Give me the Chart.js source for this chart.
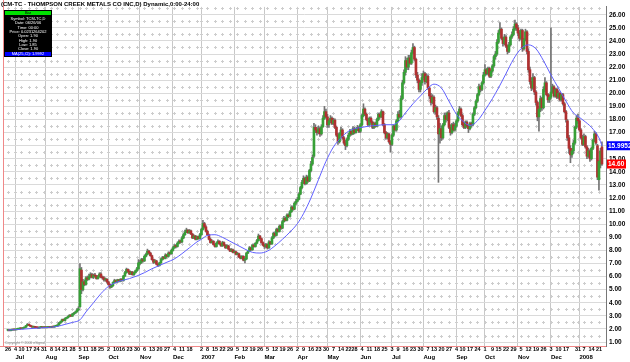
<!DOCTYPE html>
<html>
<head>
<meta charset="utf-8">
<script src="https://cdn.jsdelivr.net/npm/chart.js@4.4.0/dist/chart.umd.min.js"></script>
<style>
html, body { margin: 0; padding: 0; background: #fff; }
canvas { display: block; }
</style>
</head>
<body>
<canvas id="tcmChart" width="630" height="362"></canvas>
<script>
// TSX trading calendar
const firstDay = '2006-06-26';
const lastDay = '2008-01-23';
const holidays = ['2006-07-03', '2006-08-07', '2006-09-04', '2006-10-09', '2006-12-25', '2006-12-26',
    '2007-01-01', '2007-04-06', '2007-05-21', '2007-07-02', '2007-08-06', '2007-09-03', '2007-10-08',
    '2007-12-25', '2007-12-26', '2008-01-01'];
const monthNames = ['Jul', 'Aug', 'Sep', 'Oct', 'Nov', 'Dec', '2007', 'Feb', 'Mar', 'Apr', 'May', 'Jun',
    'Jul', 'Aug', 'Sep', 'Oct', 'Nov', 'Dec', '2008'];

// daily prices, one line per month
const opens = [
    1.90, 1.90, 1.87, 1.92, 1.95,
    1.93, 1.95, 1.99, 2.00, 2.05, 2.02, 2.08, 2.13, 2.25, 2.36, 2.27, 2.21, 2.14, 2.18, 2.13, 2.10, 2.07, 2.12, 2.16, 2.10,
    2.12, 2.10, 2.12, 2.16, 2.12, 2.18, 2.15, 2.21, 2.22, 2.30, 2.46, 2.55, 2.72, 2.64, 2.80, 2.86, 2.95, 3.06, 2.98, 3.14, 3.22, 3.30,
    3.45, 3.70, 6.50, 5.00, 5.60, 5.40, 5.90, 5.80, 6.00, 6.15, 5.95, 6.10, 6.05, 5.85, 6.00, 6.20, 5.95, 5.90, 5.75, 5.80,
    5.60, 5.40, 5.20, 5.30, 5.55, 5.70, 5.60, 5.75, 5.65, 5.80, 5.70, 6.05, 6.30, 6.55, 6.40, 6.20, 6.35, 6.15, 6.30, 6.45, 6.60,
    7.00, 7.10, 7.30, 7.20, 7.55, 7.70, 7.95, 7.80, 7.60, 7.30, 7.10, 7.20, 6.95, 6.85, 7.05, 7.30, 7.45, 7.40, 7.65, 7.55, 7.80, 7.75,
    8.00, 8.20, 8.35, 8.30, 8.55, 8.70, 8.65, 8.95, 9.20, 9.40, 9.55, 9.35, 9.50, 9.25, 8.95, 9.10, 8.85, 9.05, 8.90,
    9.20, 9.60, 10.05, 9.80, 9.45, 9.20, 8.85, 8.60, 8.70, 8.45, 8.30, 8.55, 8.70, 8.50, 8.35, 8.60, 8.40, 8.20, 8.35, 8.10, 7.95, 8.05,
    7.85, 7.90, 7.70, 7.75, 7.50, 7.40, 7.55, 7.25, 7.35, 7.80, 7.95, 8.20, 8.05, 8.40, 8.30, 8.55, 8.75, 9.10, 8.90, 8.60,
    8.40, 8.30, 8.45, 8.20, 8.65, 8.50, 8.95, 9.30, 9.15, 9.60, 9.45, 9.85, 9.70, 10.20, 10.45, 10.30, 10.70, 10.60, 10.95, 11.30, 11.15, 11.60,
    11.75, 11.90, 12.30, 12.80, 13.20, 13.50, 13.10, 13.60, 13.30, 14.10, 14.60, 15.20, 17.40, 17.20, 17.00, 17.30, 16.90, 17.45, 18.10, 18.60,
    18.20, 17.60, 17.90, 18.10, 17.70, 17.95, 17.40, 16.80, 16.30, 16.90, 17.20, 16.60, 16.20, 16.00, 16.50, 16.80, 17.10, 16.90, 17.30, 17.00, 17.25, 17.40,
    17.10, 17.60, 18.30, 18.80, 18.40, 18.00, 17.60, 18.10, 17.80, 17.40, 17.70, 17.50, 18.00, 18.40, 18.20, 18.60, 17.60, 17.00, 16.60, 16.90, 16.30,
    16.10, 16.80, 17.50, 17.20, 17.90, 18.40, 18.20, 19.60, 20.80, 21.60, 22.50, 22.00, 22.70, 22.30, 23.10, 23.50, 22.60, 21.40, 21.00, 20.30, 20.80,
    21.20, 21.50, 20.90, 21.30, 20.40, 19.80, 19.30, 19.70, 18.60, 18.90, 18.10, 16.90, 17.30, 16.60, 17.60, 18.30, 18.00, 18.50, 17.40, 17.00, 17.60, 17.20,
    17.50, 17.90, 18.50, 18.80, 18.30, 17.60, 17.40, 17.80, 17.50, 17.30, 17.70, 17.60, 18.40, 18.90, 19.40, 19.90, 20.50, 20.30, 20.80,
    21.40, 21.80, 21.50, 21.90, 21.30, 21.70, 22.10, 22.80, 23.00, 23.90, 24.60, 24.90, 24.20, 23.80, 24.30, 23.60, 23.20, 23.70, 24.30, 24.50, 24.90, 25.30,
    25.00, 24.60, 24.20, 24.80, 23.40, 24.10, 24.70, 23.20, 21.80, 20.90, 20.40, 21.20, 20.10, 19.30, 18.20, 18.80, 19.60, 18.90, 20.30, 20.80, 19.90, 19.50,
    19.70, 20.10, 20.50, 19.80, 20.30, 19.70, 20.00, 19.50, 19.90, 19.20, 18.60, 17.90, 16.60, 15.80, 15.30, 15.60, 16.20, 17.40, 18.10,
    17.90, 17.20, 16.60, 16.10, 16.70, 15.90, 15.20, 15.60, 15.00, 15.80, 16.40, 16.90, 16.00, 13.40, 14.60, 15.90
];
const highs = [
    1.90, 1.92, 1.94, 1.97, 1.97,
    1.98, 2.00, 2.03, 2.08, 2.07, 2.10, 2.15, 2.28, 2.42, 2.38, 2.30, 2.22, 2.21, 2.19, 2.15, 2.12, 2.15, 2.18, 2.17, 2.15,
    2.15, 2.15, 2.18, 2.18, 2.20, 2.20, 2.23, 2.26, 2.34, 2.50, 2.60, 2.75, 2.76, 2.85, 2.90, 3.00, 3.10, 3.10, 3.20, 3.28, 3.36, 3.55,
    3.70, 7.00, 6.70, 5.80, 5.75, 6.00, 6.05, 6.20, 6.30, 6.25, 6.20, 6.25, 6.10, 6.10, 6.30, 6.30, 6.05, 6.00, 5.90, 5.85,
    5.65, 5.45, 5.35, 5.60, 5.80, 5.75, 5.80, 5.80, 5.85, 5.85, 6.10, 6.40, 6.65, 6.60, 6.45, 6.40, 6.40, 6.35, 6.50, 6.70, 7.30,
    7.25, 7.40, 7.40, 7.65, 7.80, 8.10, 8.00, 7.85, 7.65, 7.35, 7.30, 7.25, 7.00, 7.10, 7.40, 7.55, 7.55, 7.75, 7.70, 7.90, 7.90, 8.10,
    8.30, 8.45, 8.45, 8.65, 8.80, 8.80, 9.05, 9.30, 9.55, 9.70, 9.60, 9.60, 9.55, 9.30, 9.20, 9.15, 9.10, 9.10, 9.30,
    9.70, 10.30, 10.15, 9.90, 9.55, 9.25, 8.95, 8.80, 8.75, 8.50, 8.65, 8.80, 8.75, 8.55, 8.70, 8.65, 8.45, 8.45, 8.40, 8.15, 8.15, 8.10,
    8.00, 7.95, 7.85, 7.80, 7.60, 7.60, 7.60, 7.40, 7.85, 8.00, 8.30, 8.25, 8.45, 8.50, 8.60, 8.85, 9.25, 9.15, 8.95, 8.65,
    8.50, 8.55, 8.50, 8.75, 8.70, 9.05, 9.40, 9.40, 9.70, 9.70, 9.95, 9.95, 10.30, 10.60, 10.55, 10.80, 10.80, 11.05, 11.40, 11.40, 11.70, 11.90,
    12.05, 12.40, 12.90, 13.35, 13.70, 13.60, 13.75, 13.70, 14.20, 14.80, 15.30, 17.70, 17.60, 17.40, 17.50, 17.40, 17.60, 18.30, 19.00, 18.80,
    18.40, 18.00, 18.30, 18.20, 18.10, 18.05, 17.50, 16.95, 17.00, 17.40, 17.30, 16.70, 16.40, 16.60, 16.95, 17.25, 17.15, 17.45, 17.40, 17.35, 17.55, 17.50,
    17.70, 18.40, 19.20, 18.90, 18.50, 18.10, 18.20, 18.20, 17.90, 17.80, 17.80, 18.10, 18.50, 18.50, 18.75, 18.65, 17.70, 17.10, 17.00, 16.95, 16.40,
    16.90, 17.60, 17.60, 18.00, 18.60, 18.70, 19.80, 21.00, 21.80, 22.80, 22.70, 22.90, 22.90, 23.30, 23.80, 23.60, 22.70, 21.60, 21.10, 21.00, 21.50,
    21.70, 21.60, 21.50, 21.40, 20.50, 20.00, 19.90, 19.80, 19.10, 19.00, 18.30, 17.70, 17.50, 17.70, 18.50, 18.50, 18.60, 18.70, 17.60, 17.70, 17.80, 17.70,
    18.00, 18.60, 19.00, 18.90, 18.40, 17.80, 17.90, 17.90, 17.60, 17.80, 17.80, 18.50, 19.00, 19.50, 20.00, 20.70, 20.60, 20.90, 21.60,
    22.20, 21.90, 22.00, 22.00, 21.80, 22.20, 22.90, 23.20, 24.10, 24.80, 25.40, 25.00, 24.30, 24.50, 24.40, 23.70, 23.90, 24.40, 24.70, 25.10, 25.60, 25.40,
    25.20, 24.80, 24.90, 24.90, 24.20, 24.90, 24.80, 23.40, 22.00, 21.20, 21.50, 21.30, 20.20, 19.40, 19.00, 19.80, 19.70, 20.50, 21.20, 20.90, 20.00, 19.90,
    25.00, 20.70, 20.60, 20.40, 20.40, 20.20, 20.10, 20.00, 20.00, 19.30, 18.70, 18.00, 16.80, 16.00, 15.80, 16.40, 17.50, 18.30, 18.40,
    18.00, 17.30, 16.80, 16.90, 16.80, 16.00, 15.80, 15.70, 15.90, 16.50, 17.10, 17.00, 16.10, 14.90, 15.80, 16.30
];
const lows = [
    1.85, 1.85, 1.86, 1.90, 1.91,
    1.91, 1.93, 1.96, 1.98, 2.00, 2.00, 2.05, 2.11, 2.22, 2.25, 2.18, 2.12, 2.12, 2.10, 2.08, 2.05, 2.05, 2.10, 2.08, 2.08,
    2.07, 2.08, 2.10, 2.10, 2.10, 2.13, 2.13, 2.18, 2.20, 2.28, 2.42, 2.52, 2.62, 2.62, 2.76, 2.82, 2.92, 2.95, 2.96, 3.10, 3.18, 3.28,
    3.40, 3.65, 4.70, 4.90, 5.30, 5.35, 5.70, 5.75, 5.90, 5.90, 5.85, 5.95, 5.80, 5.80, 5.95, 5.90, 5.80, 5.65, 5.65, 5.50,
    5.35, 5.10, 5.15, 5.25, 5.50, 5.55, 5.55, 5.60, 5.60, 5.65, 5.65, 6.00, 6.25, 6.35, 6.15, 6.15, 6.10, 6.10, 6.25, 6.40, 6.55,
    6.90, 7.00, 7.10, 7.15, 7.50, 7.65, 7.75, 7.55, 7.25, 7.00, 7.05, 6.90, 6.75, 6.80, 7.00, 7.25, 7.35, 7.35, 7.50, 7.50, 7.65, 7.70,
    7.95, 8.15, 8.20, 8.25, 8.50, 8.55, 8.60, 8.90, 9.15, 9.35, 9.30, 9.30, 9.20, 8.90, 8.90, 8.80, 8.80, 8.85, 8.85,
    9.15, 9.55, 9.70, 9.40, 9.15, 8.80, 8.55, 8.55, 8.40, 8.25, 8.25, 8.50, 8.45, 8.30, 8.30, 8.35, 8.15, 8.15, 8.05, 7.90, 7.90, 7.80,
    7.80, 7.65, 7.65, 7.45, 7.35, 7.35, 7.20, 7.05, 7.30, 7.75, 7.90, 8.00, 8.00, 8.25, 8.25, 8.50, 8.70, 8.85, 8.55, 8.35,
    8.15, 8.20, 8.10, 8.15, 8.45, 8.45, 8.90, 9.05, 9.10, 9.40, 9.40, 9.60, 9.65, 10.15, 10.25, 10.25, 10.50, 10.55, 10.90, 11.05, 11.10, 11.50,
    11.70, 11.85, 12.25, 12.70, 13.10, 13.00, 13.05, 13.20, 13.25, 14.00, 14.50, 15.10, 17.00, 16.80, 16.90, 16.70, 16.80, 17.40, 18.00, 18.10,
    17.40, 17.40, 17.75, 17.60, 17.60, 17.30, 16.70, 16.10, 16.20, 16.80, 16.50, 16.10, 15.70, 15.90, 16.40, 16.70, 16.80, 16.85, 16.90, 16.95, 17.15, 17.00,
    17.00, 17.50, 18.20, 18.30, 17.90, 17.50, 17.50, 17.70, 17.30, 17.30, 17.40, 17.45, 17.90, 18.10, 18.15, 17.50, 16.90, 16.50, 16.50, 16.20, 15.50,
    16.00, 16.70, 17.10, 17.10, 17.80, 18.10, 18.10, 19.50, 20.70, 21.40, 21.80, 21.80, 22.20, 22.20, 23.00, 22.50, 21.20, 20.80, 20.10, 20.10, 20.60,
    21.00, 20.70, 20.80, 20.30, 19.60, 19.10, 19.20, 18.50, 18.40, 18.00, 13.20, 16.20, 16.40, 16.50, 17.50, 17.80, 17.90, 17.30, 16.80, 16.90, 17.10, 17.10,
    17.40, 17.80, 18.40, 18.20, 17.50, 17.30, 17.30, 17.40, 17.00, 17.20, 17.40, 17.50, 18.30, 18.80, 19.30, 19.80, 20.10, 20.20, 20.70,
    21.30, 21.40, 21.40, 21.20, 21.20, 21.60, 22.00, 22.60, 22.90, 23.80, 24.50, 24.10, 23.60, 23.70, 23.50, 23.00, 23.10, 23.60, 24.20, 24.40, 24.80, 24.80,
    24.40, 24.00, 24.10, 23.20, 23.30, 24.00, 23.00, 21.60, 20.70, 20.20, 20.30, 19.90, 19.10, 17.90, 17.10, 18.60, 18.70, 18.80, 20.10, 19.80, 19.30, 19.30,
    19.60, 20.00, 19.70, 19.70, 19.60, 19.60, 19.40, 19.40, 19.10, 18.50, 17.80, 16.40, 15.40, 14.70, 15.10, 15.40, 16.10, 17.30, 17.70,
    17.10, 16.50, 16.00, 16.00, 15.80, 15.00, 15.10, 14.80, 14.90, 15.70, 16.30, 16.10, 13.40, 12.60, 14.30, 14.50
];
const closes = [
    1.90, 1.88, 1.92, 1.95, 1.93,
    1.95, 1.98, 2.00, 2.05, 2.02, 2.08, 2.12, 2.25, 2.35, 2.28, 2.20, 2.15, 2.18, 2.12, 2.10, 2.08, 2.12, 2.15, 2.10, 2.12,
    2.10, 2.12, 2.15, 2.12, 2.18, 2.15, 2.20, 2.22, 2.30, 2.45, 2.55, 2.70, 2.65, 2.80, 2.85, 2.95, 3.05, 2.98, 3.15, 3.20, 3.30, 3.45,
    3.55, 6.60, 5.00, 5.60, 5.40, 5.90, 5.80, 6.00, 6.15, 5.95, 6.10, 6.05, 5.85, 6.00, 6.20, 5.95, 5.90, 5.75, 5.80, 5.60,
    5.40, 5.20, 5.30, 5.55, 5.70, 5.60, 5.75, 5.65, 5.80, 5.70, 6.05, 6.30, 6.55, 6.40, 6.20, 6.35, 6.15, 6.30, 6.45, 6.60, 7.05,
    7.10, 7.30, 7.20, 7.55, 7.70, 7.95, 7.80, 7.60, 7.30, 7.10, 7.20, 6.95, 6.85, 7.05, 7.30, 7.45, 7.40, 7.65, 7.55, 7.80, 7.75, 8.00,
    8.20, 8.35, 8.30, 8.55, 8.70, 8.65, 8.95, 9.20, 9.40, 9.55, 9.35, 9.50, 9.25, 8.95, 9.10, 8.85, 9.05, 8.90, 9.20,
    9.60, 10.05, 9.80, 9.45, 9.20, 8.85, 8.60, 8.70, 8.45, 8.30, 8.55, 8.70, 8.50, 8.35, 8.60, 8.40, 8.20, 8.35, 8.10, 7.95, 8.05, 7.85,
    7.90, 7.70, 7.75, 7.50, 7.40, 7.55, 7.25, 7.35, 7.80, 7.95, 8.20, 8.05, 8.40, 8.30, 8.55, 8.75, 9.10, 8.90, 8.60, 8.40,
    8.30, 8.45, 8.20, 8.65, 8.50, 8.95, 9.30, 9.15, 9.60, 9.45, 9.85, 9.70, 10.20, 10.45, 10.30, 10.70, 10.60, 10.95, 11.30, 11.15, 11.60, 11.75,
    11.90, 12.30, 12.80, 13.20, 13.50, 13.10, 13.60, 13.30, 14.10, 14.60, 15.10, 17.40, 17.20, 17.00, 17.30, 16.90, 17.45, 18.10, 18.60, 18.20,
    17.60, 17.90, 18.10, 17.70, 17.95, 17.40, 16.80, 16.30, 16.90, 17.20, 16.60, 16.20, 16.00, 16.50, 16.80, 17.10, 16.90, 17.30, 17.00, 17.25, 17.40, 17.10,
    17.60, 18.30, 18.80, 18.40, 18.00, 17.60, 18.10, 17.80, 17.40, 17.70, 17.50, 18.00, 18.40, 18.20, 18.60, 17.60, 17.00, 16.60, 16.90, 16.30, 16.10,
    16.80, 17.50, 17.20, 17.90, 18.40, 18.20, 19.60, 20.80, 21.60, 22.50, 22.00, 22.70, 22.30, 23.10, 23.50, 22.60, 21.40, 21.00, 20.30, 20.80, 21.20,
    21.50, 20.90, 21.30, 20.40, 19.80, 19.30, 19.70, 18.60, 18.90, 18.20, 16.90, 17.30, 16.60, 17.60, 18.30, 18.00, 18.50, 17.40, 17.00, 17.60, 17.20, 17.50,
    17.90, 18.50, 18.80, 18.30, 17.60, 17.40, 17.80, 17.50, 17.30, 17.70, 17.60, 18.40, 18.90, 19.40, 19.90, 20.50, 20.30, 20.80, 21.40,
    21.80, 21.50, 21.90, 21.30, 21.70, 22.10, 22.80, 23.00, 23.90, 24.60, 24.90, 24.20, 23.80, 24.30, 23.60, 23.20, 23.70, 24.30, 24.50, 24.90, 25.30, 25.00,
    24.60, 24.20, 24.80, 23.40, 24.10, 24.70, 23.20, 21.80, 20.90, 20.40, 21.20, 20.10, 19.30, 18.20, 18.80, 19.60, 18.90, 20.30, 20.80, 19.90, 19.50, 19.70,
    20.10, 20.50, 19.80, 20.30, 19.70, 20.00, 19.50, 19.90, 19.20, 18.60, 18.00, 16.60, 15.80, 15.30, 15.60, 16.20, 17.40, 18.10, 17.90,
    17.20, 16.60, 16.10, 16.70, 15.90, 15.20, 15.60, 15.00, 15.80, 16.40, 16.90, 16.20, 13.60, 14.80, 15.60, 14.60
];

// MA(25) of closes, read at the first trading day of every week, plus the last bar
const maWeekly = [
    1.92, 1.95, 1.98, 2.02, 2.06, 2.10, 2.14, 2.20, 2.35, 2.50,
    2.70, 3.30, 4.00, 4.70, 5.25, 5.55, 5.70, 5.85, 6.05, 6.30,
    6.60, 6.85, 7.10, 7.35, 7.75, 8.20, 8.65, 8.85, 9.15, 9.20,
    9.00, 8.70, 8.40, 8.10, 7.85, 7.80, 7.95, 8.35, 8.85, 9.40,
    10.05, 10.80, 12.00, 13.40, 14.80, 15.90, 16.60, 17.10, 17.30, 17.40,
    17.50, 17.55, 17.60, 17.60, 17.80, 18.50, 19.20, 19.80, 20.40, 20.70,
    20.40, 19.40, 18.40, 17.90, 17.55, 17.90, 18.70, 19.60, 20.40, 21.50,
    22.60, 23.40, 23.70, 23.40, 22.50, 21.40, 20.40, 19.40, 18.50, 18.25,
    17.90, 17.40, 16.60
];
const maLast = 15.9952;
const maFirst = 1.9992;

// build the list of trading days
const days = [];
for (let d = new Date(firstDay + 'T12:00:00Z'); d <= new Date(lastDay + 'T12:00:00Z'); d.setUTCDate(d.getUTCDate() + 1)) {
    const wd = d.getUTCDay();
    if (wd === 0 || wd === 6) continue;
    const s = d.toISOString().slice(0, 10);
    if (holidays.includes(s)) continue;
    days.push(s);
}
const n = Math.min(days.length, closes.length);
const dow = s => new Date(s + 'T12:00:00Z').getUTCDay();

const weekStarts = [];
const monthStarts = [];
for (let i = 0; i < n; i++) {
    if (i === 0 || dow(days[i]) <= dow(days[i - 1])) weekStarts.push(i);
    if (i > 0 && days[i].slice(5, 7) !== days[i - 1].slice(5, 7)) monthStarts.push(i);
}
// christmas weeks carry no label
const weekLabels = weekStarts.map(i => {
    const m = +days[i].slice(5, 7), dd = +days[i].slice(8, 10);
    return (m === 12 && dd >= 22 && dd <= 28) ? '' : String(dd);
});

const wickData = [], bodyData = [], bodyColors = [];
for (let i = 0; i < n; i++) {
    wickData.push({ x: i, y: [lows[i], highs[i]] });
    bodyData.push({ x: i, y: [opens[i], closes[i]] });
    bodyColors.push(closes[i] >= opens[i] ? '#36a036' : '#b03030');
}
const maData = weekStarts.map((w, k) => ({ x: w, y: maWeekly[k] }));
maData.push({ x: n - 1, y: maLast });

const xMin = -3.3, xMax = 398.7;
const narrow = '"Liberation Sans Narrow", "Arial Narrow", Arial, sans-serif';
const dayFont = { family: narrow, size: 5.5, weight: 'bold' };
const monthFont = { family: 'Arial, "Liberation Sans", sans-serif', size: 6, weight: 'bold' };

const extras = {
    id: 'extras',
    beforeDatasetsDraw(chart) {
        const { ctx, scales } = chart;
        ctx.save();
        ctx.fillStyle = '#cdcdcd';
        for (const w of weekStarts) {
            const px = Math.round(scales.x.getPixelForValue(w));
            for (let v = 1.5; v < 26.6; v += 1) {
                const py = Math.round(scales.y.getPixelForValue(v));
                ctx.fillRect(px - 1, py, 3, 1);
                ctx.fillRect(px, py - 1, 1, 3);
            }
        }
        ctx.restore();
    },
    afterDraw(chart) {
        const { ctx, chartArea: a, scales } = chart;
        ctx.save();
        // red frame lines
        ctx.strokeStyle = '#f08888';
        ctx.lineWidth = 1;
        ctx.beginPath();
        ctx.moveTo(a.left + 0.5, 0);
        ctx.lineTo(a.left + 0.5, a.bottom);
        ctx.moveTo(0, a.bottom + 0.5);
        ctx.lineTo(a.right, a.bottom + 0.5);
        ctx.stroke();

        // title
        ctx.fillStyle = '#000';
        ctx.font = 'bold 6px Arial, "Liberation Sans", sans-serif';
        ctx.textBaseline = 'top';
        ctx.textAlign = 'left';
        ctx.fillText('(CM-TC - THOMPSON CREEK METALS CO INC,D) Dynamic,0:00-24:00', 1, 1);

        // copyright
        ctx.fillStyle = '#888';
        ctx.font = '3.5px Arial, sans-serif';
        ctx.textBaseline = 'bottom';
        ctx.fillText('Copyright \u00a9 2006 eSignal', 5, a.bottom - 1);

        // data window
        const bx = 4, by = 10, bw = 48, bh = 47;
        ctx.fillStyle = '#000';
        ctx.fillRect(bx, by, bw, bh);
        ctx.fillStyle = '#00e000';
        ctx.fillRect(bx + 1, by + 1, bw - 2, 4);
        ctx.fillStyle = '#0000ff';
        ctx.fillRect(bx + 1, by + bh - 5, bw - 2, 4);
        const rows = ['Symbol: TCM-TC,D', 'Date: 06/26/06', 'Time: 00:00', 'Price: 0.0231264202',
            'Open: ' + opens[0].toFixed(2), 'High: ' + highs[0].toFixed(2),
            'Low: ' + lows[0].toFixed(2), 'Close: ' + closes[0].toFixed(2)];
        ctx.font = '4px Arial, sans-serif';
        ctx.textAlign = 'center';
        ctx.textBaseline = 'middle';
        ctx.fillStyle = '#000';
        ctx.fillText('Bar', bx + bw / 2, by + 3);
        ctx.fillStyle = '#fff';
        rows.forEach((r, k) => ctx.fillText(r, bx + bw / 2, by + 9 + k * 4.3));
        ctx.fillText('MA(25,Cl): ' + maFirst.toFixed(4), bx + bw / 2, by + bh - 3);

        // last value boxes
        ctx.font = 'bold 6.5px Arial, "Liberation Sans", sans-serif';
        ctx.textAlign = 'left';
        const yMa = scales.y.getPixelForValue(maLast);
        ctx.fillStyle = '#0000ff';
        ctx.fillRect(a.right + 1, yMa - 4.5, 24, 9);
        ctx.fillStyle = '#fff';
        ctx.fillText(maLast.toFixed(4), a.right + 2, yMa);
        const yCl = scales.y.getPixelForValue(closes[n - 1]);
        ctx.fillStyle = '#ff0000';
        ctx.fillRect(a.right + 1, yCl - 4.5, 19, 9);
        ctx.fillStyle = '#fff';
        ctx.fillText(closes[n - 1].toFixed(2), a.right + 2, yCl);
        ctx.restore();
    }
};

new Chart(document.getElementById('tcmChart'), {
    type: 'bar',
    data: {
        datasets: [
            {
                type: 'line',
                data: maData,
                borderColor: '#6060ff',
                borderWidth: 1,
                pointRadius: 0,
                cubicInterpolationMode: 'monotone',
                order: 0
            },
            {
                data: bodyData,
                backgroundColor: bodyColors,
                borderWidth: 0,
                barThickness: 2,
                minBarLength: 1,
                grouped: false,
                order: 1
            },
            {
                data: wickData,
                backgroundColor: '#737373',
                borderWidth: 0,
                barThickness: 1,
                grouped: false,
                order: 2
            }
        ]
    },
    options: {
        responsive: false,
        animation: false,
        layout: { padding: { left: 3, top: 2, right: 0, bottom: 0 } },
        plugins: {
            legend: { display: false },
            tooltip: { enabled: false }
        },
        scales: {
            // data axis: trading day index
            x: {
                type: 'linear',
                position: 'bottom',
                min: xMin,
                max: xMax,
                offset: false,
                grid: { display: false, offset: false },
                display: false
            },
            // week row
            xw: {
                type: 'linear',
                position: 'bottom',
                min: xMin,
                max: xMax,
                offset: false,
                weight: 1,
                grid: { display: false, drawTicks: false, offset: false },
                border: { display: false },
                afterBuildTicks: s => { s.ticks = weekStarts.map(v => ({ value: v })); },
                afterFit: s => { s.height = 8; },
                ticks: {
                    autoSkip: false,
                    maxRotation: 0,
                    minRotation: 0,
                    padding: 0,
                    color: '#000',
                    font: dayFont,
                    callback: (v, k) => weekLabels[k]
                }
            },
            // month row
            xm: {
                type: 'linear',
                position: 'bottom',
                min: xMin,
                max: xMax,
                offset: false,
                weight: 2,
                grid: { color: '#c8c8c8', drawTicks: false, offset: false },
                border: { display: false },
                afterBuildTicks: s => { s.ticks = monthStarts.map(v => ({ value: v })); },
                afterFit: s => { s.height = 8; },
                ticks: {
                    autoSkip: false,
                    maxRotation: 0,
                    minRotation: 0,
                    padding: 0,
                    align: 'start',
                    color: '#000',
                    font: monthFont,
                    callback: (v, k) => monthNames[k]
                }
            },
            y: {
                position: 'right',
                min: 0.7,
                max: 26.6,
                grid: { color: '#dadada', drawTicks: false },
                border: { display: true, color: '#777' },
                afterFit: s => { s.width = 24; },
                ticks: {
                    stepSize: 1,
                    includeBounds: false,
                    padding: 3,
                    color: '#000',
                    font: { family: 'Arial, "Liberation Sans", sans-serif', size: 6.5, weight: 'bold' },
                    callback: v => v.toFixed(2)
                }
            }
        }
    },
    plugins: [extras]
});
</script>
</body>
</html>
